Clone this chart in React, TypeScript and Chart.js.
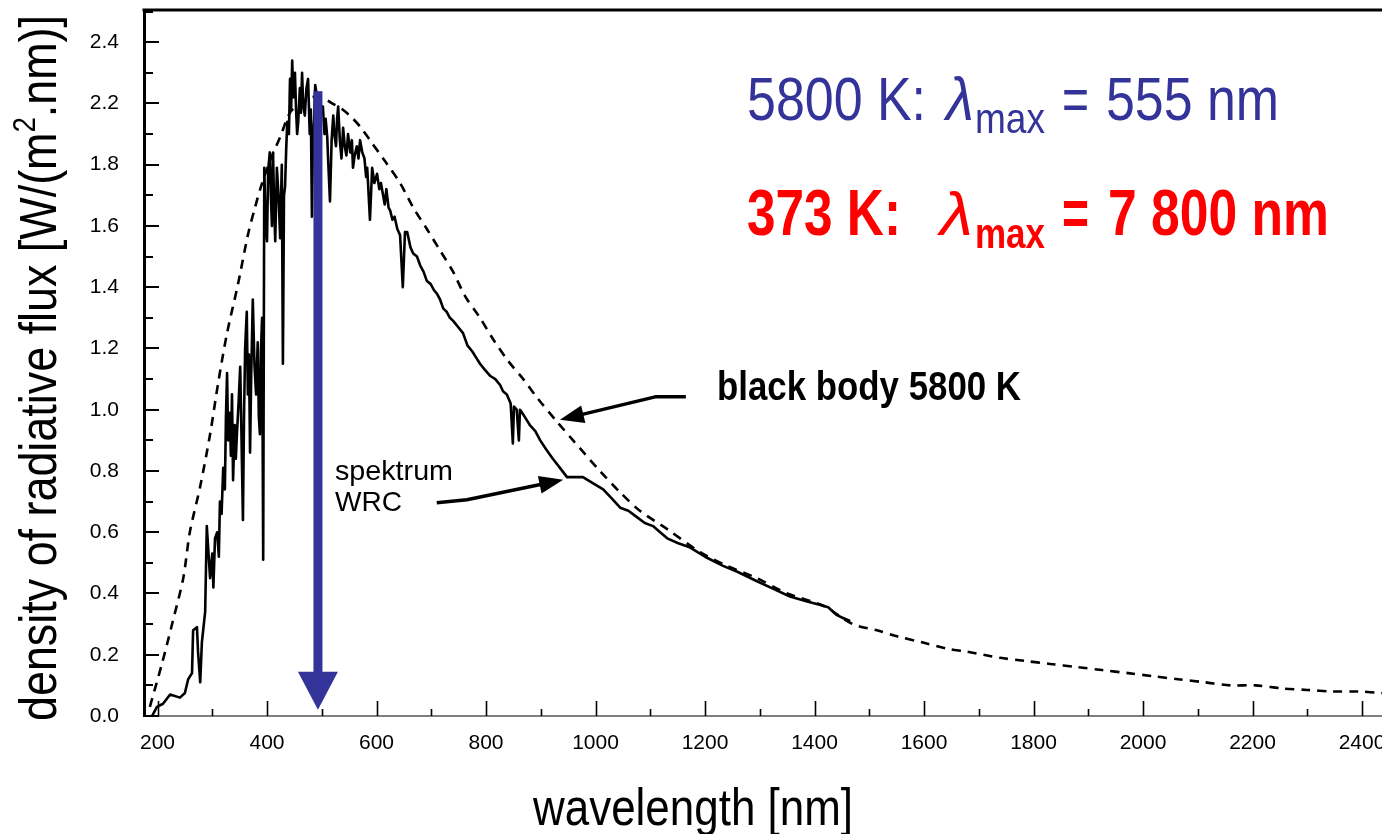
import React, { useEffect, useRef } from "react";
import { Chart, registerables } from "chart.js";

Chart.register(...registerables);

// ---- data ----
const wrcNm = [
  190, 199, 210, 223, 241, 250, 256, 263, 265, 272, 274, 278, 281, 287, 290, 296,
  300, 302, 305, 309, 312, 314, 317, 320, 323, 325, 327, 329, 332, 334, 336, 338, 341, 343, 345, 348,
  351, 353, 356, 358, 360, 363, 365, 367, 369, 371, 374, 377, 380, 383, 385, 387, 389, 391, 393, 395,
  397, 400, 402, 405, 407, 409, 411, 413, 415, 418, 421, 424, 427, 429, 431, 433, 435, 437, 440, 442,
  444, 446, 448, 451, 453, 455, 457, 460, 462, 464, 466, 469, 472, 475, 478, 480, 482, 484, 486, 488,
  495, 502, 505, 507, 510, 512, 515, 518, 521, 523, 526, 528, 530, 533, 536, 539, 542, 545, 548, 552,
  555, 557, 560, 564, 567, 570, 574, 578, 581, 583, 588, 592, 596, 601, 605, 608, 612, 615, 618, 622,
  625, 629, 633, 638, 643, 648, 652, 656, 662, 667, 674, 680, 686, 692, 699, 705, 710, 716, 722, 728,
  734, 740, 749, 758, 766, 775, 782, 789, 798, 808, 817, 826, 831, 838, 845, 849, 851, 856, 860, 862,
  866, 873, 880, 890, 899, 910, 922, 935, 948, 962, 977, 995, 1014, 1030, 1045, 1060, 1075, 1090, 1105, 1118,
  1131, 1150, 1173, 1200, 1233, 1260, 1295, 1325, 1355, 1385, 1416, 1425, 1440, 1452, 1465,
];
const wrcFlux = [
  0.0, 0.03, 0.04, 0.07, 0.06, 0.075, 0.12, 0.14, 0.28, 0.29, 0.21, 0.11, 0.24, 0.34, 0.62, 0.45,
  0.53, 0.42, 0.58, 0.6, 0.52, 0.7, 0.66, 0.81, 0.74, 0.98, 1.12, 0.9, 0.99, 0.85, 1.05, 0.77, 0.95, 0.84, 0.92, 1.02,
  1.14, 0.95, 0.64, 0.98, 1.2, 1.32, 1.05, 1.18, 0.86, 1.1, 1.36, 1.15, 1.05, 1.22, 0.98, 0.92, 1.2, 1.3, 0.51, 1.79,
  1.62, 1.55, 1.78, 1.84, 1.7, 1.6, 1.84, 1.66, 1.55, 1.79, 1.7, 1.56, 1.8, 1.15, 1.7, 1.73, 1.85, 1.94, 1.9, 2.08,
  1.98, 2.14, 2.02, 2.1, 1.98, 1.9, 1.94, 2.05, 1.97, 2.1, 2.0, 1.96, 2.05, 2.08, 1.9, 1.98, 1.63, 1.9, 1.95, 2.06,
  1.98, 1.99, 1.9, 1.95, 1.89, 1.8, 1.68, 1.88, 1.96, 1.9, 1.86, 1.95, 1.99, 1.88, 1.82, 1.92, 1.86, 1.83, 1.9, 1.84,
  1.88, 1.79, 1.83, 1.86, 1.82, 1.88, 1.84, 1.82, 1.76, 1.79, 1.62, 1.79, 1.74, 1.77, 1.72, 1.74, 1.7, 1.67, 1.72, 1.66,
  1.65, 1.62, 1.63, 1.59, 1.57, 1.4, 1.58, 1.58, 1.53, 1.51, 1.5, 1.47, 1.45, 1.42, 1.41, 1.39, 1.38, 1.36, 1.33, 1.32,
  1.3, 1.29, 1.27, 1.25, 1.21, 1.19, 1.17, 1.15, 1.13, 1.11, 1.1, 1.08, 1.06, 1.05, 1.02, 0.89, 1.01, 1.0, 0.9, 1.0,
  0.99, 0.97, 0.95, 0.93, 0.9, 0.87, 0.84, 0.81, 0.78, 0.78, 0.78, 0.76, 0.74, 0.71, 0.68, 0.67, 0.65, 0.63, 0.62, 0.6,
  0.58, 0.565, 0.55, 0.52, 0.49, 0.47, 0.44, 0.415, 0.39, 0.375, 0.36, 0.355, 0.33, 0.32, 0.31,
];

const bbNm = [
  186, 208, 228, 247, 259, 278, 296, 311, 327, 347, 365, 378, 391, 407, 424, 442, 460, 480, 500, 519,
  538, 557, 572, 588, 616, 643, 667, 692, 716, 740, 762, 789, 813, 840, 868, 893, 930, 959, 1008, 1045,
  1081, 1131, 1191, 1240, 1295, 1350, 1416, 1470, 1514, 1551, 1598, 1642, 1678, 1739, 1784, 1830, 1879, 1925, 1973, 2018,
  2064, 2113, 2159, 2205, 2254, 2300, 2345, 2393, 2437,
];
const bbFlux = [
  0.03, 0.17, 0.31, 0.45, 0.6, 0.75, 0.92, 1.09, 1.25, 1.41, 1.57, 1.66, 1.74, 1.82, 1.89, 1.97, 2.0, 2.02, 2.02, 2.0,
  1.98, 1.95, 1.92, 1.88, 1.81, 1.74, 1.66, 1.59, 1.52, 1.45, 1.37, 1.3, 1.23, 1.16, 1.1, 1.04, 0.96, 0.9, 0.8, 0.73,
  0.67, 0.61, 0.535, 0.49, 0.45, 0.4, 0.36, 0.3, 0.28, 0.26, 0.24, 0.22, 0.21, 0.19, 0.18, 0.17, 0.16, 0.15, 0.14, 0.13,
  0.12, 0.11, 0.1, 0.1, 0.09, 0.085, 0.08, 0.08, 0.075,
];

const xTickValues = [200, 400, 600, 800, 1000, 1200, 1400, 1600, 1800, 2000, 2200, 2400];
const xTickLabels = ["200", "400", "600", "800", "1000", "1200", "1400", "1600", "1800", "2000", "2200", "2400"];
// the original figure's axis skips "2.0": labels as printed
const yTickValues = [0, 0.2, 0.4, 0.6, 0.8, 1.0, 1.2, 1.4, 1.6, 1.8, 2.0, 2.2];
const yTickLabels = ["0.0", "0.2", "0.4", "0.6", "0.8", "1.0", "1.2", "1.4", "1.6", "1.8", "2.2", "2.4"];

const X_MIN = 175.3;
const X_MAX = 2436.5;
const Y_MIN = 0;
const Y_MAX = 2.305;

// blue arrow and pointer arrows, in data units
const peakArrow = { nm: 493, from: 2.04, to: 0.02 };
const bbPointer = [[1165, 1.042], [1109, 1.042], [935, 0.967]];
const wrcPointer = [[710, 0.696], [765, 0.706], [941, 0.771]];

const FONT = '"Liberation Sans", Arial, Helvetica, sans-serif';
const BLUE = "#333399";
const RED = "#ff0000";

type Run = { text: string; font: string; dy?: number };

function drawRuns(ctx: CanvasRenderingContext2D, runs: Run[], x: number, baseline: number, width: number, color: string) {
  let natural = 0;
  for (const r of runs) {
    ctx.font = r.font;
    natural += ctx.measureText(r.text).width;
  }
  const sx = width / natural;
  ctx.save();
  ctx.translate(x, baseline);
  ctx.scale(sx, 1);
  ctx.fillStyle = color;
  ctx.textAlign = "left";
  ctx.textBaseline = "alphabetic";
  let cx = 0;
  for (const r of runs) {
    ctx.font = r.font;
    ctx.fillText(r.text, cx, r.dy || 0);
    cx += ctx.measureText(r.text).width;
  }
  ctx.restore();
}

function drawPointer(ctx: CanvasRenderingContext2D, pts: number[][], headLen: number, headHalf: number, lw: number, color: string) {
  const n = pts.length;
  const [tx, ty] = pts[n - 1];
  const [px, py] = pts[n - 2];
  const ang = Math.atan2(ty - py, tx - px);
  const bx = tx - Math.cos(ang) * headLen;
  const by = ty - Math.sin(ang) * headLen;
  ctx.save();
  ctx.strokeStyle = color;
  ctx.fillStyle = color;
  ctx.lineWidth = lw;
  ctx.lineCap = "butt";
  ctx.lineJoin = "round";
  ctx.beginPath();
  ctx.moveTo(pts[0][0], pts[0][1]);
  for (let i = 1; i < n - 1; i++) ctx.lineTo(pts[i][0], pts[i][1]);
  ctx.lineTo(bx + Math.cos(ang) * 2, by + Math.sin(ang) * 2);
  ctx.stroke();
  ctx.beginPath();
  ctx.moveTo(tx, ty);
  ctx.lineTo(bx - Math.sin(ang) * headHalf, by + Math.cos(ang) * headHalf);
  ctx.lineTo(bx + Math.sin(ang) * headHalf, by - Math.cos(ang) * headHalf);
  ctx.closePath();
  ctx.fill();
  ctx.restore();
}

const decorPlugin = {
  id: "decor",
  afterDatasetsDraw(chart: any) {
    const { ctx, chartArea, scales } = chart;
    const xs = scales.x;
    const ys = scales.y;
    ctx.save();
    // top frame line
    ctx.strokeStyle = "#000";
    ctx.lineWidth = 3;
    ctx.beginPath();
    ctx.moveTo(chartArea.left - 1.5, chartArea.top);
    ctx.lineTo(chartArea.right, chartArea.top);
    ctx.stroke();

    // inward x ticks
    ctx.lineWidth = 1.6;
    for (const v of xTickValues) {
      const px = Math.round(xs.getPixelForValue(v)) + 0.5;
      ctx.beginPath();
      ctx.moveTo(px, chartArea.bottom);
      ctx.lineTo(px, chartArea.bottom - 15);
      ctx.stroke();
      const m = v + 100;
      if (m < X_MAX) {
        const pm = Math.round(xs.getPixelForValue(m)) + 0.5;
        ctx.beginPath();
        ctx.moveTo(pm, chartArea.bottom);
        ctx.lineTo(pm, chartArea.bottom - 7);
        ctx.stroke();
      }
    }
    // inward y ticks
    ctx.lineWidth = 2;
    for (const v of yTickValues) {
      const py = Math.round(ys.getPixelForValue(v));
      ctx.beginPath();
      ctx.moveTo(chartArea.left, py);
      ctx.lineTo(chartArea.left + 15, py);
      ctx.stroke();
      const m = v + 0.1;
      if (m < Y_MAX) {
        const pm = Math.round(ys.getPixelForValue(m));
        ctx.beginPath();
        ctx.moveTo(chartArea.left, pm);
        ctx.lineTo(chartArea.left + 9, pm);
        ctx.stroke();
      }
    }

    // blue vertical arrow
    const ax = xs.getPixelForValue(peakArrow.nm);
    const aTop = ys.getPixelForValue(peakArrow.from);
    const aTip = ys.getPixelForValue(peakArrow.to);
    ctx.fillStyle = BLUE;
    ctx.fillRect(ax - 4.5, aTop, 9, aTip - aTop - 36);
    ctx.beginPath();
    ctx.moveTo(ax - 20, aTip - 38);
    ctx.lineTo(ax + 20, aTip - 38);
    ctx.lineTo(ax, aTip);
    ctx.closePath();
    ctx.fill();

    // black pointer arrows
    const toPx = (p: number[]) => [xs.getPixelForValue(p[0]), ys.getPixelForValue(p[1])];
    drawPointer(ctx, bbPointer.map(toPx), 24, 9, 3.5, "#000");
    drawPointer(ctx, wrcPointer.map(toPx), 24, 9, 3.5, "#000");
    ctx.restore();
  },
  afterDraw(chart: any) {
    const { ctx } = chart;
    ctx.save();
    // y axis title (rotated)
    ctx.save();
    ctx.translate(56, 368);
    ctx.rotate(-Math.PI / 2);
    drawRuns(
      ctx,
      [
        { text: "density of radiative flux [W/(m", font: `52px ${FONT}` },
        { text: "2", font: `32px ${FONT}`, dy: -21 },
        { text: ".nm)]", font: `52px ${FONT}` },
      ],
      -353,
      0,
      706,
      "#000"
    );
    ctx.restore();

    // x axis title
    drawRuns(ctx, [{ text: "wavelength [nm]", font: `52px ${FONT}` }], 533, 825, 320, "#000");

    // 5800 K line (blue)
    drawRuns(ctx, [{ text: "5800 K:", font: `62px ${FONT}` }], 747, 120, 179, BLUE);
    drawRuns(ctx, [{ text: "λ", font: `italic 62px ${FONT}` }], 946, 120, 28, BLUE);
    drawRuns(ctx, [{ text: "max", font: `42px ${FONT}` }], 975, 133, 70, BLUE);
    drawRuns(ctx, [{ text: "=", font: `62px ${FONT}` }], 1062, 120, 27, BLUE);
    drawRuns(ctx, [{ text: "555 nm", font: `62px ${FONT}` }], 1106, 120, 173, BLUE);

    // 373 K line (red, bold)
    drawRuns(ctx, [{ text: "373 K:", font: `bold 64px ${FONT}` }], 747, 235, 154, RED);
    drawRuns(ctx, [{ text: "λ", font: `italic 62px ${FONT}` }], 940, 235, 33, RED);
    drawRuns(ctx, [{ text: "max", font: `bold 42px ${FONT}` }], 975, 248, 70, RED);
    drawRuns(ctx, [{ text: "=", font: `bold 64px ${FONT}` }], 1062, 235, 27, RED);
    drawRuns(ctx, [{ text: "7 800 nm", font: `bold 64px ${FONT}` }], 1108, 235, 221, RED);

    // curve labels
    drawRuns(ctx, [{ text: "black body 5800 K", font: `bold 40px ${FONT}` }], 717, 400, 304, "#000");
    drawRuns(ctx, [{ text: "spektrum", font: `28px ${FONT}` }], 335, 480, 118, "#000");
    drawRuns(ctx, [{ text: "WRC", font: `28px ${FONT}` }], 335, 511, 67, "#000");
    ctx.restore();
  },
};

export default function App() {
  const canvasRef = useRef<HTMLCanvasElement | null>(null);

  useEffect(() => {
    const canvas = canvasRef.current;
    if (!canvas) return;
    const chart = new Chart(canvas, {
      type: "line",
      data: {
        datasets: [
          {
            label: "spektrum WRC",
            data: wrcNm.map((n, i) => ({ x: n, y: wrcFlux[i] })),
            borderColor: "#000",
            borderWidth: 2.6,
            borderJoinStyle: "round",
            pointRadius: 0,
            tension: 0,
            fill: false,
          },
          {
            label: "black body 5800 K",
            data: bbNm.map((n, i) => ({ x: n, y: bbFlux[i] })),
            borderColor: "#000",
            borderWidth: 2.6,
            borderDash: [9, 7],
            borderCapStyle: "butt",
            pointRadius: 0,
            tension: 0.3,
            fill: false,
          },
        ],
      },
      options: {
        animation: false,
        responsive: false,
        devicePixelRatio: 1,
        layout: { padding: { top: 10, left: 0, right: 0, bottom: 0 } },
        plugins: {
          legend: { display: false },
          tooltip: { enabled: false },
          title: { display: false },
        },
        scales: {
          x: {
            type: "linear",
            min: X_MIN,
            max: X_MAX,
            grid: { display: false, drawTicks: false, tickLength: 0 },
            border: { display: true, color: "#808080", width: 2 },
            ticks: {
              autoSkip: false,
              maxRotation: 0,
              padding: 15,
              color: "#000",
              font: { family: FONT, size: 21 },
              callback: (v: any) => {
                const i = xTickValues.indexOf(Number(v));
                return i >= 0 ? xTickLabels[i] : "";
              },
            },
            afterBuildTicks: (s: any) => {
              s.ticks = xTickValues.map((v) => ({ value: v }));
            },
            afterFit: (s: any) => {
              s.height = 118;
              s.paddingLeft = 0;
              s.paddingRight = 0;
            },
          },
          y: {
            type: "linear",
            min: Y_MIN,
            max: Y_MAX,
            grid: { display: false, drawTicks: false, tickLength: 0 },
            border: { display: true, color: "#000", width: 3 },
            ticks: {
              autoSkip: false,
              padding: 25,
              color: "#000",
              font: { family: FONT, size: 21 },
              callback: (v: any) => {
                const i = yTickValues.findIndex((t) => Math.abs(t - Number(v)) < 1e-6);
                return i >= 0 ? yTickLabels[i] : "";
              },
            },
            afterBuildTicks: (s: any) => {
              s.ticks = yTickValues.map((v) => ({ value: v }));
            },
            afterFit: (s: any) => {
              s.width = 144;
              s.paddingTop = 0;
              s.paddingBottom = 0;
            },
          },
        },
      } as any,
      plugins: [decorPlugin],
    });
    return () => chart.destroy();
  }, []);

  return (
    <div style={{ position: "fixed", left: 0, top: 0, width: 1382, height: 834, background: "#fff" }}>
      <canvas ref={canvasRef} width={1382} height={834} style={{ display: "block", width: 1382, height: 834 }} />
    </div>
  );
}
